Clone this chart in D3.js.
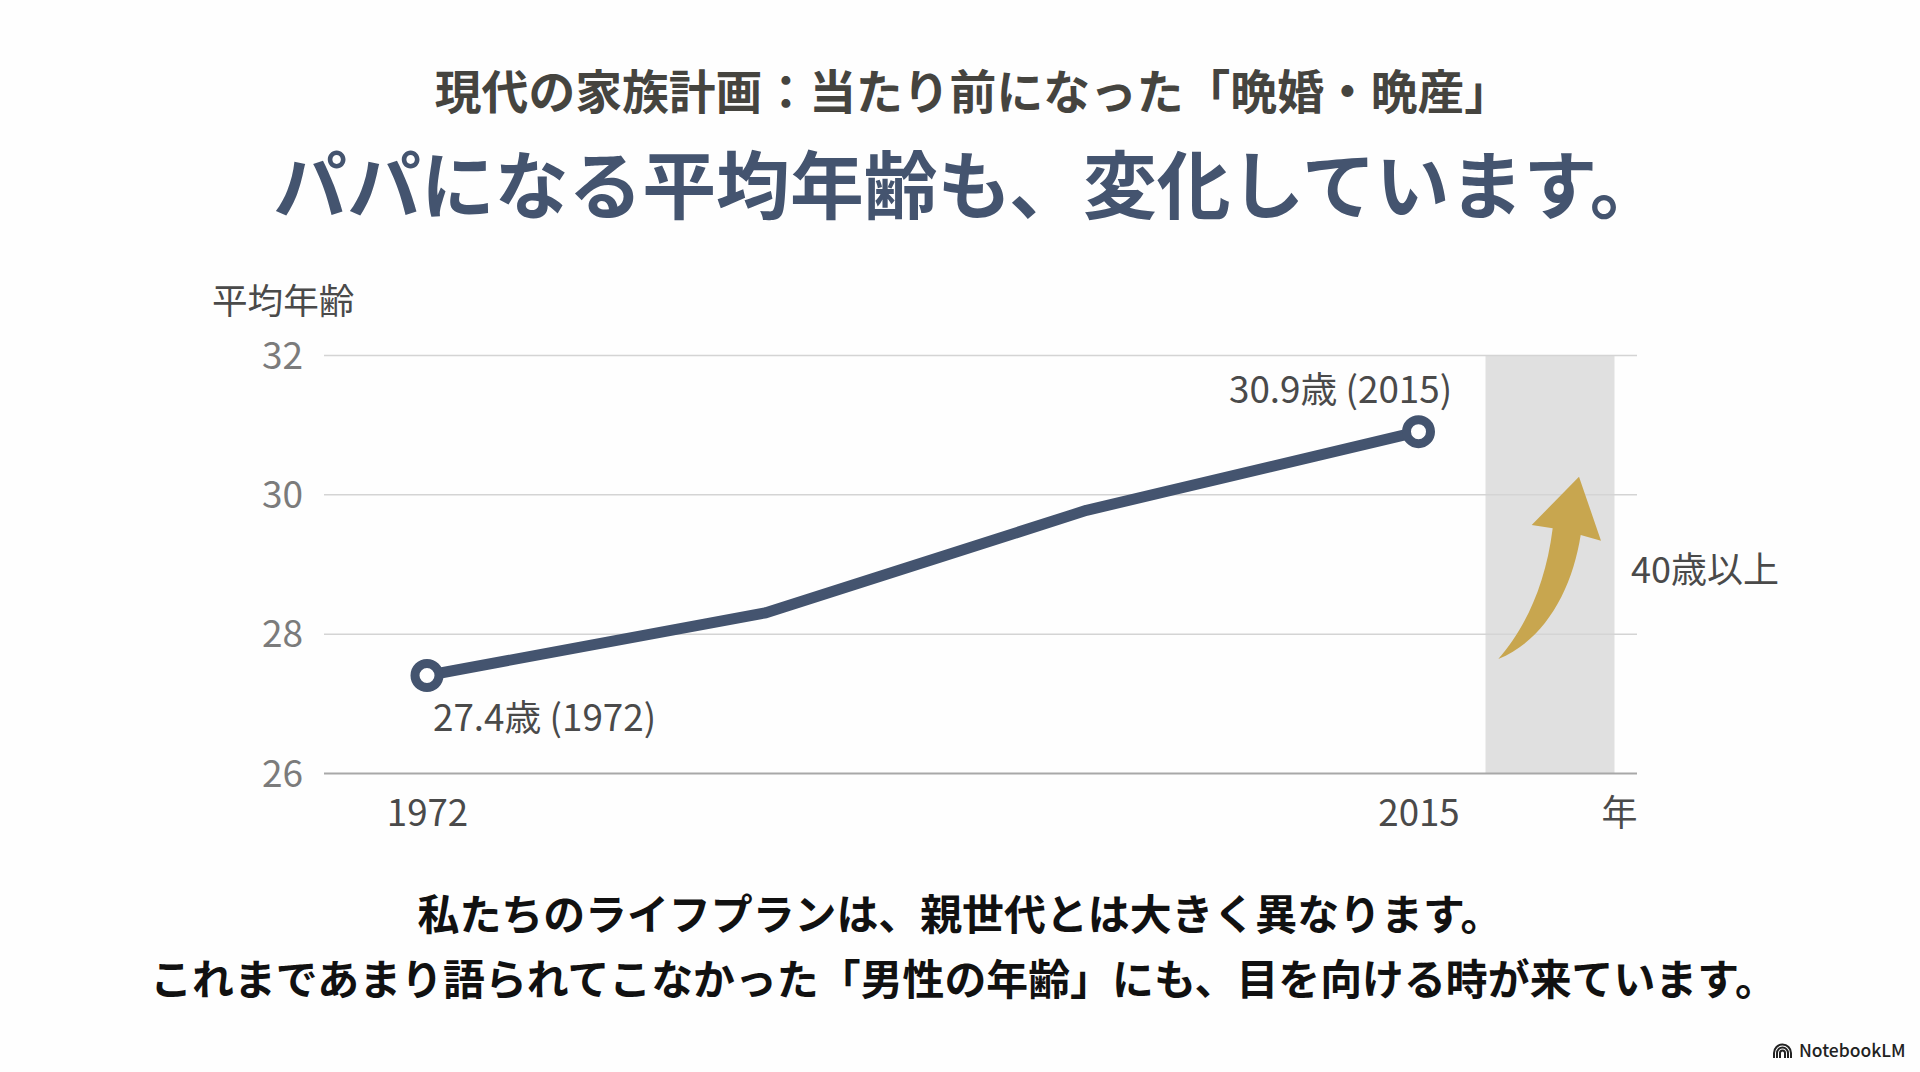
<!DOCTYPE html>
<html lang="ja"><head><meta charset="utf-8">
<script src="https://cdn.jsdelivr.net/npm/d3@7"></script>
<style>
html,body{margin:0;padding:0;background:#fefefe;overflow:hidden}
svg{display:block}
text{font-family:"Noto Sans CJK JP","Noto Sans",sans-serif}
</style></head><body><div id="c"></div>
<script>
const years=[1972,1986.7,2000.6,2015];
const ages=[27.4,28.3,29.77,30.9];
const yTicks=[26,28,30,32];
const xTicks=[1972,2015];
const endLabels=["27.4歳 (1972)","30.9歳 (2015)"];
const title1="現代の家族計画：当たり前になった「晩婚・晩産」";
const title2="パパになる平均年齢も、変化しています。";
const foot1="私たちのライフプランは、親世代とは大きく異なります。";
const foot2="これまであまり語られてこなかった「男性の年齢」にも、目を向ける時が来ています。";

const W=1920,H=1072;
const svg=d3.select("#c").append("svg").attr("width",W).attr("height",H);
svg.append("rect").attr("width",W).attr("height",H).attr("fill","#fefefe");
const x=d3.scaleLinear().domain([1972,2015]).range([427,1418.5]);
const y=d3.scaleLinear().domain([26,32]).range([773,355]);
const L=324,R=1637;
function t(s,px,py,size,fill,weight,anchor,sp){
  return svg.append("text").attr("x",px).attr("y",py).attr("font-size",size).attr("fill",fill)
   .attr("font-weight",weight||400).attr("text-anchor",anchor||"start").attr("letter-spacing",sp||0).text(s);
}
t(title1,973,109,46.8,"#45443f",700,"middle");
t(title2,968.5,213,73.8,"#44546f",700,"middle");

// band
svg.append("rect").attr("x",1485.5).attr("width",129).attr("y",y(32)).attr("height",y(26)-y(32)).attr("fill","#e0e0e0");
// y axis grid
const yAxis=d3.axisLeft(y).tickValues(yTicks).tickSize(L-R).tickPadding(21).tickFormat(d3.format("d"));
const ga=svg.append("g").attr("transform",`translate(${L},0)`).call(yAxis);
ga.select(".domain").remove();
ga.selectAll(".tick line").attr("x1",0).attr("x2",R-L).attr("stroke",d=>d===26?"#a8a8a8":"#d4d4d4").attr("stroke-width",d=>d===26?2:1.5);
ga.selectAll(".tick text").attr("font-size",37).attr("fill","#7b7b7b").attr("font-family",'"Noto Sans CJK JP"').attr("dy","0.36em");
// x axis
const xAxis=d3.axisBottom(x).tickValues(xTicks).tickSize(0).tickPadding(27).tickFormat(d3.format("d"));
const gx=svg.append("g").attr("transform",`translate(0,${y(26)})`).call(xAxis);
gx.select(".domain").remove();
gx.selectAll(".tick text").attr("font-size",36.7).attr("fill","#4a4a4a").attr("font-family",'"Noto Sans CJK JP"');
t("年",1637.5,826,36,"#4a4a4a",400,"end");
t("平均年齢",212,314,35.6,"#4a4a4a");
// line
const pts=years.map((d,i)=>[x(d),y(ages[i])]);
svg.append("path").attr("d",d3.line().curve(d3.curveLinear)(pts)).attr("fill","none").attr("stroke","#44546f").attr("stroke-width",11).attr("stroke-linejoin","round");
[0,3].forEach(i=>svg.append("circle").attr("cx",x(years[i])).attr("cy",y(ages[i])).attr("r",12).attr("fill","#fff").attr("stroke","#44546f").attr("stroke-width",9));
t(endLabels[0],433,731,36.8,"#4a4a4a");
t(endLabels[1],1229,403,36.8,"#4a4a4a");
t("40歳以上",1631,583,36,"#4a4a4a");
// arrow annotation
svg.append("path").attr("fill","#c8a64f")
 .attr("d","M1498.3,659 C1522,632 1545,590 1552.7,528.3 L1531.7,525 L1579,476.7 L1601,540.7 L1580.7,535 C1572,590 1545,640 1498.3,659 Z");
t(foot1,960,930,41.9,"#111",700,"middle");
t(foot2,963.5,995,41.9,"#111",700,"middle");
// logo
const lg=svg.append("g").attr("fill","none").attr("stroke","#222").attr("stroke-width",2);
[8.5,5.5,2.5].forEach(r=>lg.append("path").attr("d",`M${1782.5-r},1058 V1053 A${r},${r} 0 0 1 ${1782.5+r},1053 V1058`));
t("NotebookLM",1799,1057,17.5,"#222",500).attr("font-family","Inter");
</script></body></html>
